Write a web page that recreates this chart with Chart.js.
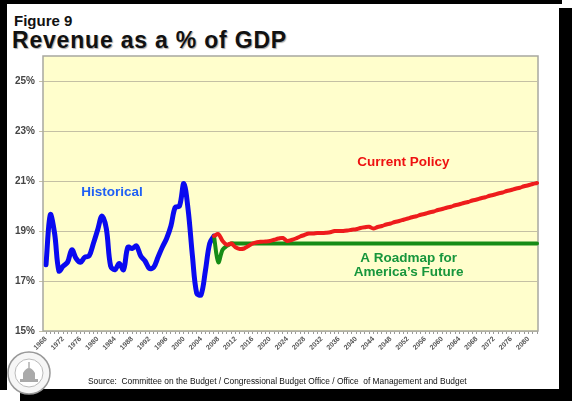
<!DOCTYPE html>
<html>
<head>
<meta charset="utf-8">
<script src="https://cdn.jsdelivr.net/npm/chart.js@4.4.0/dist/chart.umd.min.js"></script>
<style>
  body { margin: 0; background: #fff; width: 572px; height: 401px; overflow: hidden; position: relative;
         font-family: Arial, "Liberation Sans", sans-serif; }
  .blk { position: absolute; background: #000; }
  #fig { position: absolute; left: 14px; top: 13px; font-weight: bold; font-size: 15px; line-height: 1; color: #111; }
  #title { position: absolute; left: 12px; top: 29px; font-weight: bold; font-size: 23px; line-height: 1;
           letter-spacing: 0.8px; color: #111; text-shadow: 1px 1px 1px #aaa; }
  #src { position: absolute; left: 88px; top: 377px; font-size: 8.4px; line-height: 1; color: #111; white-space: pre; }
  #c { position: absolute; left: 0; top: 0; }
  #seal { position: absolute; left: 6px; top: 349px; }
</style>
</head>
<body>
<div class="blk" style="left:0;top:0;width:562px;height:4px"></div>
<div class="blk" style="left:0;top:0;width:7px;height:390px"></div>
<div class="blk" style="left:559px;top:8px;width:13px;height:393px"></div>
<div class="blk" style="left:20px;top:389px;width:552px;height:12px"></div>

<div id="fig">Figure 9</div>
<div id="title">Revenue as a % of GDP</div>
<canvas id="c" width="572" height="401"></canvas>
<svg id="seal" width="46" height="48" viewBox="0 0 46 48">
  <circle cx="23" cy="24" r="21" fill="#f6f6f6" stroke="#999" stroke-width="1.5"/>
  <circle cx="23" cy="24" r="14" fill="#fff" stroke="#bbb" stroke-width="1"/>
  <path d="M14 33 L32 33 L32 30 L29 30 L29 24 Q23 14 17 24 L17 30 L14 30 Z" fill="#aaa"/>
  <rect x="22.3" y="13" width="1.4" height="6" fill="#aaa"/>
</svg>
<div id="src">Source:  Committee on the Budget / Congressional Budget Office / Office  of Management and Budget</div>

<script>
// years on the category axis
const years = []
for (let y = 1968; y <= 2082; y++) years.push(String(y))

const yTicks = [15, 17, 19, 21, 23, 25]

// 1968 - 2007
const historical = [
  17.65, 19.65, 18.9, 17.4, 17.6, 17.75, 18.25, 17.9, 17.75, 17.95,
  18.0, 18.5, 19.05, 19.6, 19.1, 17.6, 17.45, 17.7, 17.45, 18.35,
  18.3, 18.4, 18.0, 17.8, 17.5, 17.55, 17.95, 18.35, 18.7, 19.2,
  19.95, 20.0, 20.9, 19.85, 18.0, 16.5, 16.45, 17.4, 18.5, 18.8
]

// 2007 - 2082
const currentPolicy = [
  18.8, 18.88, 18.6, 18.45, 18.5, 18.35, 18.28, 18.3, 18.4, 18.5,
  18.55, 18.57, 18.58, 18.6, 18.65, 18.7, 18.72, 18.6, 18.64, 18.7,
  18.78, 18.84, 18.9, 18.9, 18.92, 18.92, 18.93, 18.95, 19.0, 19.0,
  19.0, 19.02, 19.05, 19.07, 19.12, 19.15, 19.17, 19.1, 19.16, 19.2,
  19.26, 19.3, 19.36, 19.4, 19.45, 19.5, 19.55, 19.59, 19.65, 19.69,
  19.74, 19.78, 19.84, 19.88, 19.93, 19.97, 20.03, 20.07, 20.12, 20.16,
  20.22, 20.26, 20.31, 20.35, 20.41, 20.45, 20.5, 20.54, 20.6, 20.64,
  20.69, 20.73, 20.79, 20.83, 20.88, 20.92
]

// 2007 - 2082
const roadmap = [
  18.8, 17.75, 18.25, 18.4, 18.5, 18.5, 18.5, 18.5, 18.5, 18.5,
  18.5, 18.5, 18.5, 18.5, 18.5, 18.5, 18.5, 18.5, 18.5, 18.5,
  18.5, 18.5, 18.5, 18.5, 18.5, 18.5, 18.5, 18.5, 18.5, 18.5,
  18.5, 18.5, 18.5, 18.5, 18.5, 18.5, 18.5, 18.5, 18.5, 18.5,
  18.5, 18.5, 18.5, 18.5, 18.5, 18.5, 18.5, 18.5, 18.5, 18.5,
  18.5, 18.5, 18.5, 18.5, 18.5, 18.5, 18.5, 18.5, 18.5, 18.5,
  18.5, 18.5, 18.5, 18.5, 18.5, 18.5, 18.5, 18.5, 18.5, 18.5,
  18.5, 18.5, 18.5, 18.5, 18.5, 18.5
]

// put a series on the year axis, starting at startYear
function place(values, startYear) {
  const off = years.indexOf(String(startYear))
  return years.map((y, i) => {
    const k = i - off
    return k >= 0 && k < values.length ? values[k] : null
  })
}

const frame = {
  id: 'frame',
  beforeDraw(chart) {
    const { ctx, chartArea: a } = chart
    ctx.save()
    ctx.fillStyle = '#fffecc'
    ctx.fillRect(a.left - 3, a.top, a.right - a.left + 4, a.bottom - a.top)
    ctx.restore()
  },
  beforeDatasetsDraw(chart) {
    const { ctx, chartArea: a } = chart
    ctx.save()
    ctx.strokeStyle = '#a8a8a0'
    ctx.lineWidth = 1.5
    ctx.strokeRect(a.left - 3, a.top, a.right - a.left + 4, a.bottom - a.top)
    ctx.restore()
  },
  afterDatasetsDraw(chart) {
    const { ctx } = chart
    const x = chart.scales.x, y = chart.scales.y
    const put = (txt, idx, val, color) => {
      ctx.fillStyle = color
      ctx.fillText(txt, x.getPixelForValue(idx), y.getPixelForValue(val))
    }
    ctx.save()
    ctx.font = 'bold 13.5px Arial, "Liberation Sans", sans-serif'
    ctx.textAlign = 'center'
    ctx.textBaseline = 'middle'
    put('Historical', 15.3, 20.56, '#1f5ff5')
    put('Current Policy', 83, 21.76, '#ee1111')
    put('A Roadmap for', 84.2, 17.92, '#17963c')
    put('America\u2019s Future', 84.2, 17.36, '#17963c')
    ctx.restore()
  }
}

new Chart(document.getElementById('c'), {
  type: 'line',
  data: {
    labels: years,
    datasets: [
      { label: 'Historical', data: place(historical, 1968), borderColor: '#0a0af0', borderWidth: 5, order: 2 },
      { label: 'A Roadmap for America\u2019s Future', data: place(roadmap, 2007), borderColor: '#168c16', borderWidth: 4, order: 1 },
      { label: 'Current Policy', data: place(currentPolicy, 2007), borderColor: '#ee1c1c', borderWidth: 4, order: 0 }
    ]
  },
  options: {
    responsive: false,
    animation: false,
    events: [],
    layout: { padding: { left: 0, top: 56, right: 35, bottom: 30 } },
    elements: {
      point: { radius: 0 },
      line: { tension: 0.35, fill: false, borderCapStyle: 'round', borderJoinStyle: 'round' }
    },
    plugins: { legend: { display: false }, title: { display: false }, tooltip: { enabled: false } },
    scales: {
      x: {
        afterFit(s) { s.height = 40 },
        grid: { drawOnChartArea: false, drawTicks: true, tickLength: 3, color: '#999' },
        border: { display: false },
        ticks: {
          autoSkip: false, minRotation: 45, maxRotation: 45, padding: 1,
          color: '#555', font: { size: 7, weight: 'bold', family: 'Arial, "Liberation Sans", sans-serif' },
          callback(v, i) { return (i % 4 === 0) ? years[i] : '' }
        }
      },
      y: {
        min: 15, max: 26,
        afterFit(s) { s.width = 46 },
        afterBuildTicks(s) { s.ticks = yTicks.map(v => ({ value: v })) },
        grid: { color: '#c4c0a4', lineWidth: 1, tickLength: 7 },
        border: { display: false },
        ticks: {
          padding: 4, color: '#444',
          font: { size: 10, weight: 'bold', family: 'Arial, "Liberation Sans", sans-serif' },
          callback(v) { return v + '%' }
        }
      }
    }
  },
  plugins: [frame]
})
</script>
</body>
</html>
